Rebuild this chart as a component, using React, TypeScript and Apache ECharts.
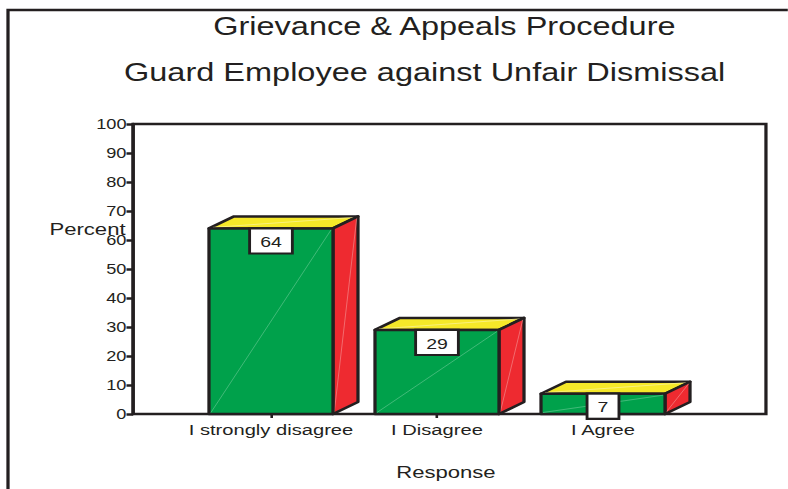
import React, { useEffect, useRef } from "react";
import * as echarts from "echarts";

const titleLines = ["Grievance & Appeals Procedure", "Guard Employee against Unfair Dismissal"];
const categories = ["I strongly disagree", "I Disagree", "I Agree"];
const percents = [64, 29, 7];
const yAxisTitle = "Percent";
const xAxisTitle = "Response";
const yMin = 0;
const yMax = 100;
const yStep = 10;

const STRETCH = 1.3;
const W = 788 / STRETCH;
const H = 489;

const DARK = "#231f20";
const GREEN = "#00a14b";
const YELLOW = "#f5e829";
const RED = "#ee2a30";
const FONT = '"Liberation Sans", Arial, sans-serif';

export default function App() {
  const ref = useRef<HTMLDivElement>(null);

  useEffect(() => {
    if (!ref.current) return;
    const chart = echarts.init(ref.current, undefined, { renderer: "svg", width: W, height: H });

    const option: any = {
      animation: false,
      backgroundColor: "#ffffff",
      title: [
        {
          text: titleLines[0],
          left: 164,
          top: 14,
          padding: 0,
          textStyle: { fontSize: 25, fontWeight: "normal", fontFamily: FONT, color: DARK },
        },
        {
          text: titleLines[1],
          left: 95.4,
          top: 60,
          padding: 0,
          textStyle: { fontSize: 25, fontWeight: "normal", fontFamily: FONT, color: DARK },
        },
      ],
      grid: [
        {
          left: 102.3,
          top: 124,
          width: 486.9,
          height: 290,
          show: true,
          borderColor: DARK,
          borderWidth: 2.5,
          backgroundColor: "transparent",
        },
        { left: 144.6, top: 124, width: 383.1, height: 290 },
      ],
      xAxis: [
        { gridIndex: 0, type: "value", min: 0, max: 1, show: false },
        {
          gridIndex: 1,
          type: "category",
          data: categories,
          axisLine: { show: false },
          axisTick: { show: true, alignWithLabel: true, length: 4, lineStyle: { color: DARK, width: 2 } },
          axisLabel: { color: DARK, fontSize: 15.5, fontFamily: FONT, margin: 8, interval: 0 },
          splitLine: { show: false },
        },
      ],
      yAxis: [
        {
          gridIndex: 0,
          type: "value",
          min: yMin,
          max: yMax,
          interval: yStep,
          axisLine: { show: true, lineStyle: { color: DARK, width: 2.5 } },
          axisTick: { show: true, length: 5, lineStyle: { color: DARK, width: 2.5 } },
          axisLabel: { color: DARK, fontSize: 14, fontFamily: FONT, margin: 5 },
          splitLine: { show: false },
        },
        { gridIndex: 1, type: "value", min: yMin, max: yMax, show: false },
      ],
      graphic: [
        {
          type: "rect",
          shape: { x: 8 / STRETCH, y: 10, width: 2000, height: 2000 },
          style: { fill: "none", stroke: DARK, lineWidth: 2.5 },
          silent: true,
        },
        {
          type: "text",
          x: 67.3,
          y: 229,
          style: { text: yAxisTitle, align: "center", verticalAlign: "middle", fontSize: 17, fontFamily: FONT, fill: DARK },
          z: 10,
        },
        {
          type: "text",
          x: 343,
          y: 472,
          style: { text: xAxisTitle, align: "center", verticalAlign: "middle", fontSize: 17, fontFamily: FONT, fill: DARK },
        },
      ],
      series: [
        {
          type: "custom",
          xAxisIndex: 1,
          yAxisIndex: 1,
          data: categories.map((c, i) => [i, percents[i]]),
          renderItem: (params: any, api: any) => {
            const i = api.value(0);
            const v = api.value(1);
            const top = api.coord([i, v]);
            const base = api.coord([i, 0]);
            const band = api.size([1, 0])[0];
            const w = band * 0.747;
            const dx = band * 0.1506;
            const dy = 12;
            const x0 = top[0] - w / 2;
            const x1 = top[0] + w / 2;
            const yT = top[1];
            const yB = base[1];
            const edge = { stroke: DARK, lineWidth: 2.5, lineJoin: "round" };
            return {
              type: "group",
              children: [
                {
                  type: "polygon",
                  shape: { points: [[x0, yT], [x0 + dx, yT - dy], [x1 + dx, yT - dy], [x1, yT]] },
                  style: { fill: YELLOW, ...edge },
                },
                {
                  type: "line",
                  shape: { x1: x0 + 3, y1: yT - 1, x2: x1 + dx - 3, y2: yT - dy + 1 },
                  style: { stroke: "#fbf4a0", lineWidth: 0.6 },
                },
                {
                  type: "polygon",
                  shape: { points: [[x1, yT], [x1 + dx, yT - dy], [x1 + dx, yB - dy], [x1, yB]] },
                  style: { fill: RED, ...edge },
                },
                {
                  type: "line",
                  shape: { x1: x1 + 1, y1: yB - 2, x2: x1 + dx - 1, y2: yT - dy + 2 },
                  style: { stroke: "#f4898b", lineWidth: 0.6 },
                },
                {
                  type: "rect",
                  shape: { x: x0, y: yT, width: w, height: yB - yT },
                  style: { fill: GREEN, ...edge },
                },
                {
                  type: "line",
                  shape: { x1: x0 + 1.5, y1: yB - 1.5, x2: x1 - 1.5, y2: yT + 1.5 },
                  style: { stroke: "#5ec48d", lineWidth: 0.6 },
                },
                {
                  type: "text",
                  style: {
                    text: String(v),
                    x: top[0],
                    y: yT + 1,
                    align: "center",
                    verticalAlign: "top",
                    fontSize: 15,
                    fontFamily: FONT,
                    fill: DARK,
                    backgroundColor: "#ffffff",
                    borderColor: DARK,
                    borderWidth: 2.2,
                    padding: [5, 7, 3, 7],
                  },
                },
              ],
            };
          },
        },
      ],
    };

    chart.setOption(option);
    return () => chart.dispose();
  }, []);

  return (
    <div style={{ position: "fixed", left: 0, top: 0, width: 788, height: 489, overflow: "hidden", background: "#fff" }}>
      <div
        ref={ref}
        style={{ width: W, height: H, transform: `scaleX(${STRETCH})`, transformOrigin: "0 0" }}
      />
    </div>
  );
}
